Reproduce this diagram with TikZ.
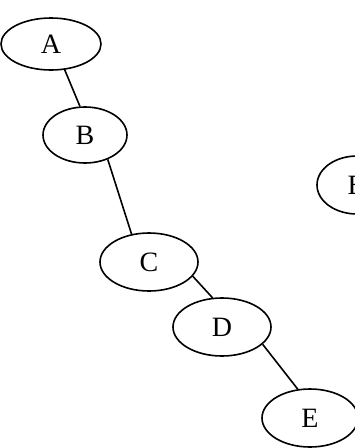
\documentclass[tikz,border=0pt]{standalone}
\usepackage{fontspec}
\setmainfont{Liberation Serif}
\usetikzlibrary{shapes.geometric}

\begin{document}
\begin{tikzpicture}[x=1pt,y=-1pt,line width=1.6pt,
  tree node/.style={ellipse,draw,inner sep=0pt,minimum width=98pt,
    minimum height=58pt,font=\fontsize{28}{30}\selectfont}]
  \useasboundingbox (0,0) rectangle (355,448);
  \clip (0,0) rectangle (355,448);

  \node[tree node,minimum width=100pt,minimum height=52pt] (A) at (51,44) {A};
  \node[tree node,minimum width=84pt,minimum height=56pt] (B) at (85,135) {B};
  \node[tree node] (C) at (149,262) {C};
  \node[tree node] (D) at (222,327) {D};
  \node[tree node,minimum width=96pt] (E) at (310,418) {E};

  \node[tree node,minimum width=80pt] (R) at (357,185) {B};

  \path
    (A.-62) edge (B.100)
    (B.-47) edge (C.122)
    (C.-18) edge (D.108)
    (D.-23) edge (E.113);
\end{tikzpicture}
\end{document}
